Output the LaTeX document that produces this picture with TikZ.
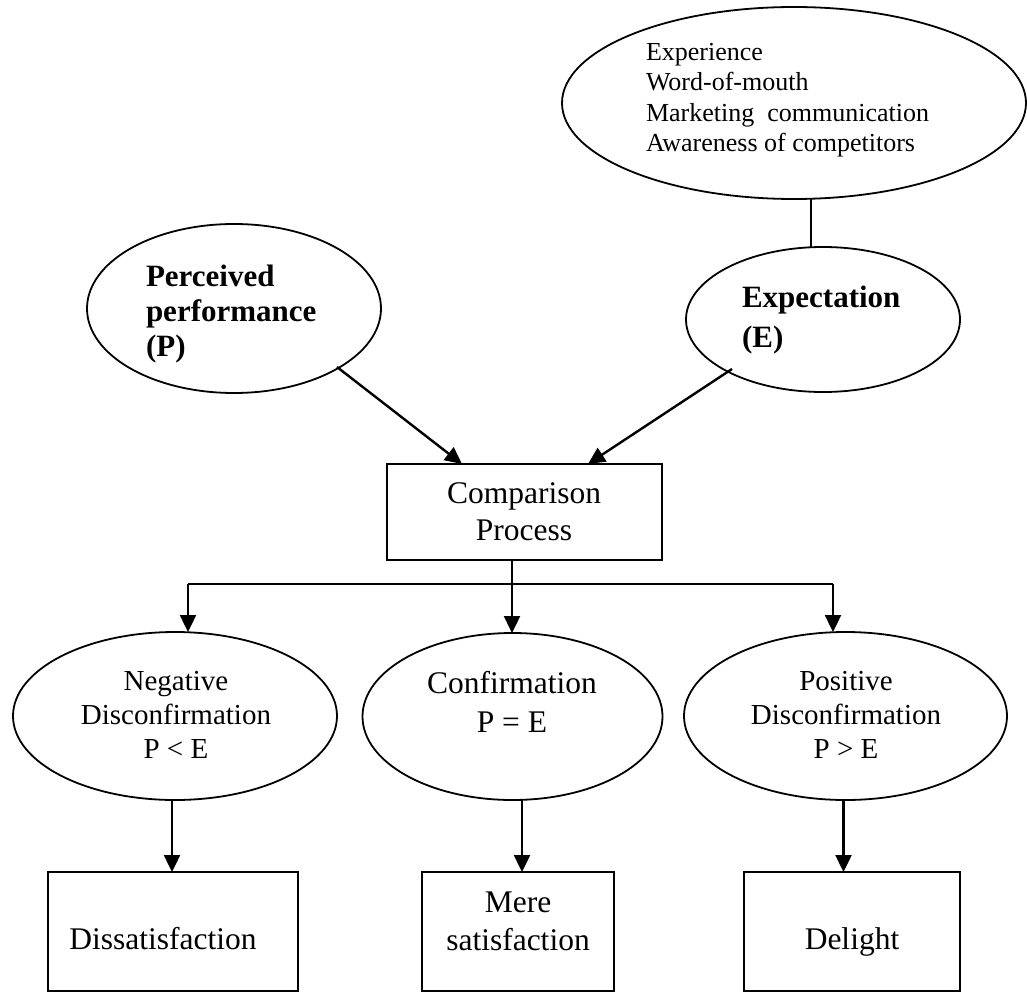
\documentclass[tikz,border=0pt]{standalone}
\usepackage{fontspec}
\setmainfont{Liberation Serif}
\usetikzlibrary{arrows.meta,calc,shapes.geometric}
\begin{document}
\begin{tikzpicture}[x=1pt,y=-1pt,
  shapeline/.style={draw=black,line width=1.8pt,inner sep=0pt,outer sep=0pt},
  oval/.style={shapeline,ellipse},
  panel/.style={shapeline,rectangle},
  txt/.style={inner sep=0pt,outer sep=0pt,align=center},
  link/.style={line width=1.8pt},
  arr/.style={line width=2.4pt,-{Triangle[length=17pt,width=16pt]}},
]
\useasboundingbox (0,0) rectangle (1027,992);

% shapes
\node[oval,minimum width=464pt,minimum height=192pt] (src) at (794,103) {};
\node[oval,minimum width=294pt,minimum height=169pt] (perc) at (234,308.5) {};
\node[oval,minimum width=274pt,minimum height=145pt] (expe) at (823,319.5) {};
\node[panel,minimum width=275pt,minimum height=96pt] (comp) at (524.5,512) {};
\node[oval,minimum width=324pt,minimum height=168pt] (neg) at (175,716) {};
\node[oval,minimum width=300pt,minimum height=167pt] (conf) at (512.5,716.5) {};
\node[oval,minimum width=323pt,minimum height=168pt] (pos) at (845.5,716) {};
\node[panel,minimum width=250pt,minimum height=119pt] (diss) at (173,931.5) {};
\node[panel,minimum width=192pt,minimum height=119pt] (mere) at (518,931.5) {};
\node[panel,minimum width=216pt,minimum height=119pt] (delight) at (852,931.5) {};

% texts
\node[txt,align=left,anchor=west,font=\fontsize{26}{30.5}\selectfont] (srcT) at (646,100)
  {\strut Experience\\\strut Word-of-mouth\\\strut Marketing\ \ communication\\\strut Awareness of competitors};
\node[txt,align=left,anchor=west,font=\fontsize{31}{35}\selectfont\bfseries] (percT) at (146,314)
  {\strut Perceived\\\strut performance\\\strut (P)};
\node[txt,align=left,anchor=west,font=\fontsize{31}{40}\selectfont\bfseries] (expeT) at (742,319)
  {\strut Expectation\\\strut (E)};
\node[txt,font=\fontsize{31.5}{37}\selectfont] (compT) at (524,515)
  {\strut Comparison\\\strut Process};
\node[txt,font=\fontsize{29}{34}\selectfont] (negT) at (176,718)
  {\strut Negative\\\strut Disconfirmation\\\strut P < E};
\node[txt,font=\fontsize{31.5}{39}\selectfont] (confT) at (512,705)
  {\strut Confirmation\\\strut P = E};
\node[txt,font=\fontsize{29}{34}\selectfont] (posT) at (846,718)
  {\strut Positive\\\strut Disconfirmation\\\strut P > E};
\node[txt,font=\fontsize{31.5}{37}\selectfont] (dissT) at (163,941.6)
  {\strut Dissatisfaction};
\node[txt,font=\fontsize{31.5}{38}\selectfont] (mereT) at (518,923.4)
  {\strut Mere\\\strut satisfaction};
\node[txt,font=\fontsize{31.5}{37}\selectfont] (delightT) at (852,941.6)
  {\strut Delight};

% connectors
\draw[link] (src.-80) -- (src.-80 |- expe.north);
\coordinate (pa) at (337,367);
\coordinate (ea) at (732,369);
\draw[arr] (pa) -- ($(comp.north)+(-62.5,0)$);
\draw[arr] (ea) -- ($(comp.north)+(63.5,0)$);

\coordinate (fk) at (512,584);
\coordinate (fl) at (188,584);
\coordinate (fr) at (833,584);
\draw[link] (comp.south -| fk) -- (fk);
\draw[link] (fl) -- (fr);
\draw[arr] (fl) -- (fl |- neg.north);
\draw[arr] (fk) -- (fk |- conf.north);
\draw[arr] (fr) -- (fr |- pos.north);

\draw[arr] ([xshift=-3pt]neg.south) -- ([xshift=-3pt]neg.south |- diss.north);
\draw[arr] ([xshift=4pt]mere.north |- conf.south) -- ([xshift=4pt]mere.north);
\draw[arr] ([xshift=-2pt]pos.south) -- ([xshift=-2pt]pos.south |- delight.north);
\end{tikzpicture}
\end{document}
